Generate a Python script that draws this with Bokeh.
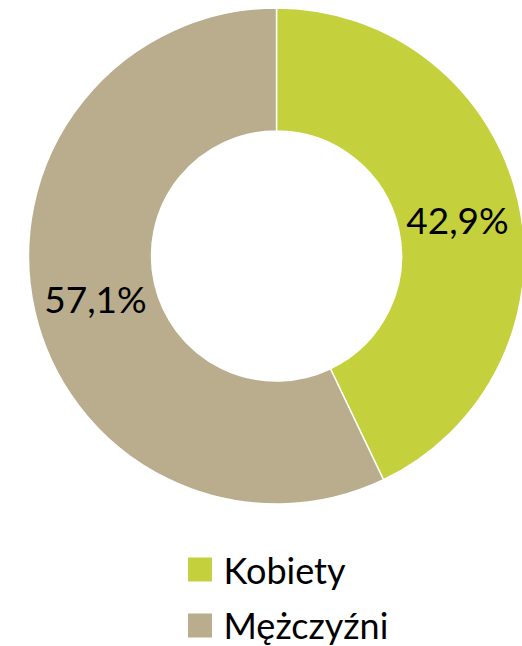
import math
from bokeh.plotting import figure
from bokeh.models import Range1d, ColumnDataSource
from bokeh.core.properties import value
from bokeh.embed import file_html
from bokeh.resources import INLINE

categories = ["Kobiety", "Mężczyźni"]
shares = [42.9, 57.1]
labels = ["42,9%", "57,1%"]
colors = ["#C4D13D", "#B9AD8D"]

FONT = "Lato"

p = figure(width=522, height=646, output_backend="svg", toolbar_location=None,
           x_range=Range1d(0, 522), y_range=Range1d(-646, 0),
           min_border=0, outline_line_color=None)
p.axis.visible = False
p.grid.visible = False
p.background_fill_color = "white"
p.border_fill_color = "white"

cx, cy = 276, -255.5
r_out, r_in = 248, 125

total = sum(shares)
starts, ends = [], []
acc = 0.0
for s in shares:
    a0 = math.pi / 2 - 2 * math.pi * acc / total
    acc += s
    a1 = math.pi / 2 - 2 * math.pi * acc / total
    starts.append(a0)
    ends.append(a1)

src = ColumnDataSource(dict(start=starts, end=ends, color=colors, cat=categories))
p.annular_wedge(x=cx, y=cy, inner_radius=r_in, outer_radius=r_out,
                start_angle="start", end_angle="end", direction="clock",
                fill_color="color", line_color="white", line_width=1.5, source=src)

# percentage labels, placed as in the reference (vertical centre of the text)
lab_x = [457, 95]
lab_y = [-219, -298]
p.text(x=lab_x, y=lab_y, text=labels, text_font=value(FONT), text_font_size="37px",
       text_align="center", text_baseline="middle", text_color="#000000")

# legend
leg_y = [-569, -625]
p.rect(x=[199.5] * 2, y=leg_y, width=24, height=24, fill_color=colors, line_color=None)
p.text(x=[223] * 2, y=[-569, -624], text=categories, text_font=value(FONT),
       text_font_size="36px", text_align="left", text_baseline="middle",
       text_color="#000000")

open("out.html", "w").write(file_html(p, INLINE))
